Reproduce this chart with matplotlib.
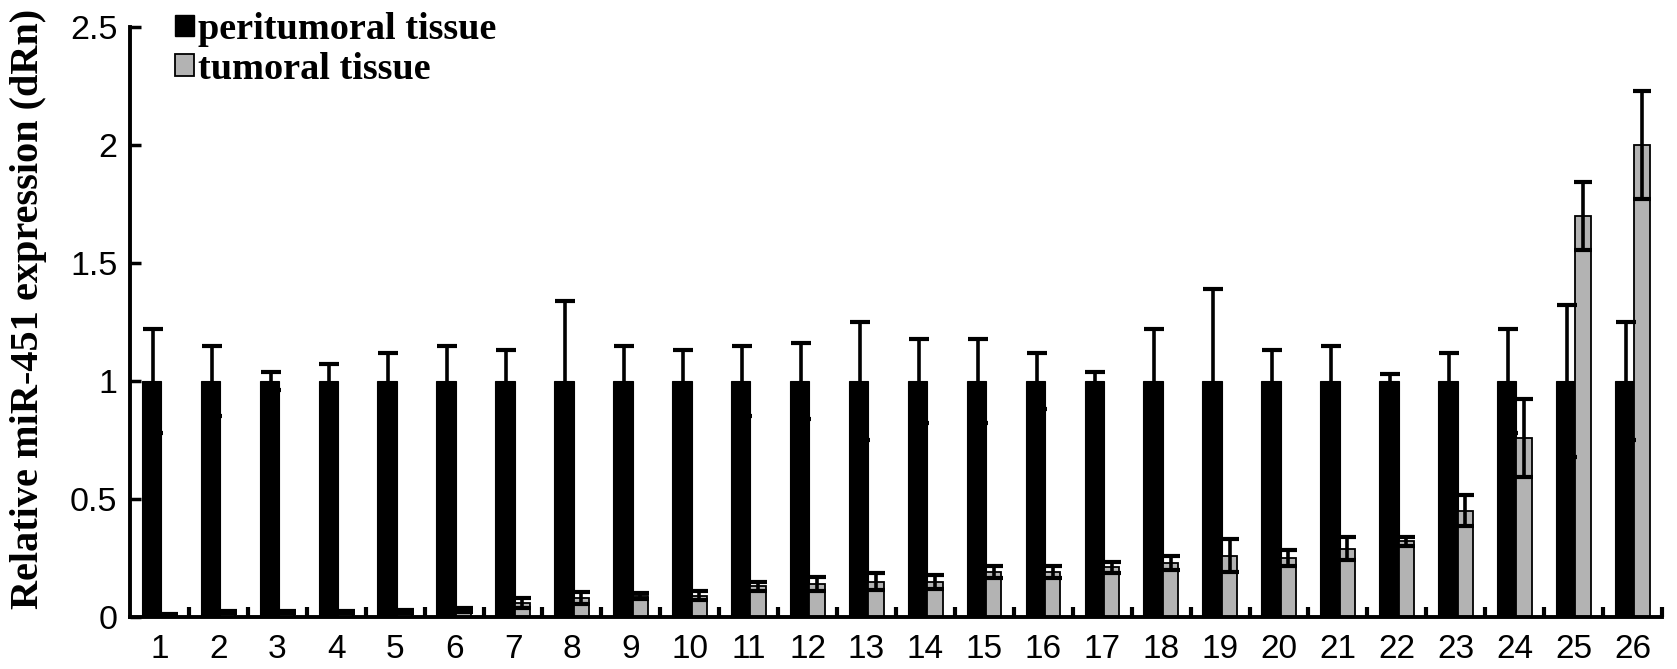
import matplotlib
matplotlib.use("Agg")
import matplotlib.pyplot as plt
from matplotlib.patches import Patch
import numpy as np

samples = [str(i) for i in range(1, 27)]
peri_mean = [1.0] * 26
peri_err = [0.22, 0.15, 0.04, 0.07, 0.12, 0.15, 0.13, 0.34, 0.15, 0.13,
            0.15, 0.16, 0.25, 0.18, 0.18, 0.12, 0.04, 0.22, 0.39, 0.13,
            0.15, 0.03, 0.12, 0.22, 0.32, 0.25]
tum_mean = [0.01, 0.02, 0.02, 0.02, 0.025, 0.03, 0.06, 0.08, 0.09, 0.09,
            0.13, 0.14, 0.15, 0.15, 0.19, 0.19, 0.21, 0.23, 0.26, 0.25,
            0.29, 0.32, 0.45, 0.76, 1.70, 2.00]
tum_err = [0.003, 0.005, 0.004, 0.004, 0.006, 0.008, 0.02, 0.025, 0.012, 0.02,
           0.02, 0.03, 0.035, 0.03, 0.025, 0.025, 0.025, 0.03, 0.07, 0.035,
           0.05, 0.02, 0.065, 0.165, 0.145, 0.23]
series_labels = ["peritumoral tissue", "tumoral tissue"]
yticks = [0, 0.5, 1, 1.5, 2, 2.5]
ytick_labels = ["0", "0.5", "1", "1.5", "2", "2.5"]

W, H = 1677, 669
fig = plt.figure(figsize=(W / 100, H / 100), dpi=100)
ax = fig.add_axes([130 / W, 52 / H, (1662 - 130) / W, (617 - 27) / H])

x = np.arange(1, len(samples) + 1)
bw_black = 0.33
bw_gray = 0.26
x_black = x - 0.30 + bw_black / 2
x_gray = x + 0.03 + bw_gray / 2
gray = "#b3b3b3"

ax.bar(x_black, peri_mean, width=bw_black, color="black", edgecolor="black",
       linewidth=0.8, zorder=2)
ax.bar(x_gray, tum_mean, width=bw_gray, color=gray, edgecolor="black",
       linewidth=1.3, zorder=2)
ax.errorbar(x_black + 0.02, peri_mean, yerr=peri_err, fmt="none", ecolor="black",
            elinewidth=2.6, capsize=7.2, capthick=3.0, zorder=3)
ax.errorbar(x_gray, tum_mean, yerr=tum_err, fmt="none", ecolor="black",
            elinewidth=2.6, capsize=6.5, capthick=3.0, zorder=3)

ax.set_xlim(0.5, 26.5)
ax.set_ylim(0, 2.5)
ax.set_xticks(x)
ax.set_xticklabels(samples, fontfamily="Liberation Sans", fontsize=24)
ax.set_xticks(np.arange(1.5, 27, 1.0), minor=True)
ax.tick_params(axis="x", which="major", length=0, pad=12)
ax.tick_params(axis="x", which="minor", direction="in", length=7, width=3)
ax.set_yticks(yticks)
ax.set_yticklabels(ytick_labels, fontfamily="Liberation Sans", fontsize=24.5)
ax.tick_params(axis="y", direction="in", length=8, width=2.5, pad=9)

for s in ["top", "right"]:
    ax.spines[s].set_visible(False)
for s in ["left", "bottom"]:
    ax.spines[s].set_linewidth(2.8)

ax.set_ylabel("Relative miR-451 expression (dRn)", fontfamily="Liberation Serif",
              fontweight="bold", fontsize=29)
ax.yaxis.set_label_coords(-0.0545, 0.522)

handles = [Patch(facecolor="black", edgecolor="black", linewidth=1),
           Patch(facecolor=gray, edgecolor="black", linewidth=1.3)]
leg = fig.legend(handles, series_labels, loc="upper left",
                 bbox_to_anchor=(175 / W, 1 - 12 / H), frameon=False,
                 prop={"family": "Liberation Serif", "weight": "bold", "size": 27.5},
                 handlelength=0.5, handleheight=0.5, handletextpad=0.1,
                 labelspacing=0.12, borderpad=0, borderaxespad=0)

fig.savefig("out.png", dpi=100)
